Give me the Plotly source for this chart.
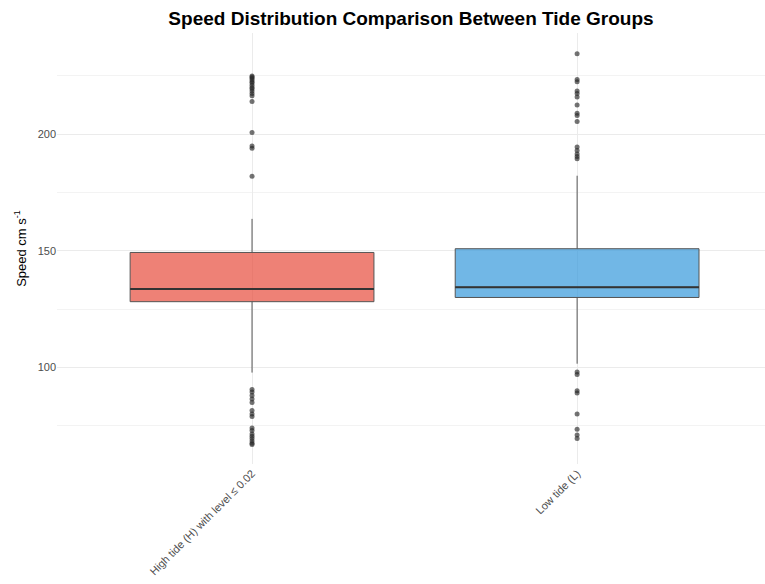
import plotly.graph_objects as go

# Tide groups and their box statistics (speed, cm/s)
groups = ["High tide (H) with level ≤ 0.02", "Low tide (L)"]
q1 = [128.2, 130.0]
median = [133.6, 134.4]
q3 = [149.3, 150.9]
lower_whisker = [97.8, 101.6]
upper_whisker = [163.7, 182.2]

# Outlying observations beyond the whiskers
outliers_h = [225.0, 224.5, 224.0, 223.2, 222.5, 222.0, 221.0, 220.0, 219.5, 218.5,
              217.5, 216.5, 214.0, 200.7, 195.0, 194.0, 182.0,
              90.5, 89.5, 88.0, 86.5, 85.0, 81.5, 80.0, 79.0, 74.0, 73.0, 71.5,
              70.5, 69.5, 68.5, 67.5, 67.0]
outliers_l = [234.5, 223.5, 222.5, 218.5, 217.5, 216.0, 212.5, 209.0, 208.0, 205.5,
              194.5, 193.0, 191.5, 190.5, 189.5,
              98.0, 97.0, 90.0, 89.0, 80.0, 73.5, 71.0, 69.5]
outliers = [outliers_h, outliers_l]

fills = ["rgba(231,76,60,0.7)", "rgba(52,152,219,0.7)"]
box_width = 0.75
positions = list(range(len(groups)))

fig = go.Figure()
for i, pos in enumerate(positions):
    fig.add_trace(go.Box(
        x=[pos], q1=[q1[i]], median=[median[i]], q3=[q3[i]],
        lowerfence=[lower_whisker[i]], upperfence=[upper_whisker[i]],
        fillcolor=fills[i], line=dict(color="#555555", width=1),
        width=box_width, whiskerwidth=0, boxpoints=False,
        showlegend=False, hoverinfo="skip",
    ))
    # thicker median bar
    fig.add_trace(go.Scatter(
        x=[pos - box_width / 2, pos + box_width / 2], y=[median[i], median[i]],
        mode="lines", line=dict(color="#333333", width=2),
        showlegend=False, hoverinfo="skip",
    ))
    fig.add_trace(go.Scatter(
        x=[pos] * len(outliers[i]), y=outliers[i], mode="markers",
        marker=dict(color="rgba(40,40,40,0.65)", size=5),
        showlegend=False, hoverinfo="skip",
    ))

fig.update_layout(
    width=765, height=584,
    margin=dict(l=57, r=0, t=33, b=120),
    plot_bgcolor="white", paper_bgcolor="white",
    font=dict(family="Liberation Sans, Arial, sans-serif", color="#4D4D4D"),
    title=dict(text="<b>Speed Distribution Comparison Between Tide Groups</b>",
               xref="paper", x=0.5, xanchor="center", y=0.968, yanchor="middle",
               font=dict(size=19, color="black")),
)
fig.update_xaxes(
    range=[-0.6, 1.578], tickvals=positions, ticktext=groups,
    tickangle=-45, tickfont=dict(size=11, color="#4D4D4D"),
    showgrid=True, gridcolor="#EBEBEB", gridwidth=1,
    zeroline=False, showline=False, ticks="",
)
fig.update_yaxes(
    range=[58.6, 243.4], tickvals=[100, 150, 200],
    tickfont=dict(size=11, color="#4D4D4D"),
    title=dict(text="Speed cm s<sup>-1</sup>", font=dict(size=13, color="black"), standoff=8),
    showgrid=True, gridcolor="#EBEBEB", gridwidth=1,
    minor=dict(tickvals=[75, 125, 175, 225], showgrid=True, gridcolor="#F3F3F3", gridwidth=1),
    zeroline=False, showline=False, ticks="",
)

fig.write_html("out.html")
